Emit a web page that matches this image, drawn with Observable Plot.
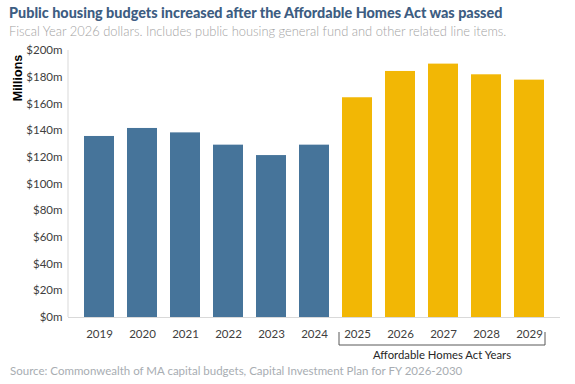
<!DOCTYPE html>
<html>
<head>
<meta charset="utf-8">
<script src="https://cdn.jsdelivr.net/npm/d3@7"></script>
<script src="https://cdn.jsdelivr.net/npm/@observablehq/plot@0.6"></script>
<style>
  html, body { margin: 0; padding: 0; background: #fff; }
  #wrap { position: relative; width: 575px; height: 384px; overflow: hidden; font-family: Lato, "Open Sans", sans-serif; }
  #title { position: absolute; left: 9px; top: 4px; font-size: 14.4px; font-weight: 900; color: #3d5d82; white-space: nowrap; }
  #subtitle { position: absolute; left: 9px; top: 23px; font-size: 12.9px; font-weight: 300; color: #a3a3a3; white-space: nowrap; }
  #source { position: absolute; left: 10px; top: 364px; font-size: 11.5px; font-weight: 400; color: #a8adb2; white-space: nowrap; }
  #chart { position: absolute; left: 0; top: 40px; }
  #chart svg { overflow: visible; }
</style>
</head>
<body>
<div id="wrap">
  <div id="title">Public housing budgets increased after the Affordable Homes Act was passed</div>
  <div id="subtitle">Fiscal Year 2026 dollars. Includes public housing general fund and other related line items.</div>
  <div id="chart"></div>
  <div id="source">Source: Commonwealth of MA capital budgets, Capital Investment Plan for FY 2026-2030</div>
</div>
<script>
const years = ["2019","2020","2021","2022","2023","2024","2025","2026","2027","2028","2029"];
const budgets = [135.6, 141.6, 138.3, 129.1, 121.3, 129.1, 164.6, 184.3, 189.8, 181.8, 177.8];
const periods = ["Before","Before","Before","Before","Before","Before","AHA","AHA","AHA","AHA","AHA"];
const yTicks = [0, 20, 40, 60, 80, 100, 120, 140, 160, 180, 200];
const ahaYears = ["2025", "2029"];
const ahaLabel = "Affordable Homes Act Years";
const yLabel = "Millions";

const data = years.map((y, i) => ({year: y, value: budgets[i], period: periods[i]}));

const plot = Plot.plot({
  width: 575,
  height: 320,
  marginTop: 10,
  marginBottom: 43,
  marginLeft: 68,
  marginRight: 15,
  style: {fontFamily: "Lato, 'Open Sans', sans-serif", fontSize: "11.5px", color: "#404040", background: "transparent"},
  x: {domain: years, padding: 0.3, label: null, tickSize: 0, tickPadding: 12},
  y: {domain: [0, 200], ticks: yTicks, tickFormat: d => `$${d}m`, label: null, tickSize: 0, tickPadding: 6},
  color: {domain: ["Before", "AHA"], range: ["#46749a", "#f2b705"]},
  marks: [
    Plot.barY(data, {x: "year", y: "value", fill: "period"}),
    Plot.ruleY([0], {stroke: "#d9d9d9", strokeWidth: 1})
  ]
});
document.getElementById("chart").appendChild(plot);

// annotations using the plot's own scales
const xs = plot.scale("x");
const ys = plot.scale("y");
const bw = xs.bandwidth;
const svg = d3.select(plot);
const y0 = ys.apply(0), yTop = ys.apply(200);
// y axis line
svg.append("line").attr("x1", 68).attr("x2", 68).attr("y1", yTop).attr("y2", y0)
  .attr("stroke", "#d9d9d9").attr("stroke-width", 1);
// y label
svg.append("text")
  .attr("transform", `translate(18,${yTop + 28}) rotate(-90)`)
  .attr("text-anchor", "middle").attr("dominant-baseline", "central")
  .attr("font-family", "'Liberation Sans', Arial, sans-serif").attr("font-weight", 700)
  .attr("font-size", 12.5).attr("fill", "#000").text(yLabel);
// bracket
const bx1 = xs.apply(ahaYears[0]) - 3;
const bx2 = xs.apply(ahaYears[1]) + bw + 1;
const by1 = y0 + 15, by2 = y0 + 28;
svg.append("path")
  .attr("d", `M${bx1},${by1}V${by2}H${bx2}V${by1}`)
  .attr("fill", "none").attr("stroke", "#595959").attr("stroke-width", 1);
svg.append("text")
  .attr("x", (bx1 + bx2) / 2).attr("y", by2 + 9)
  .attr("text-anchor", "middle").attr("dominant-baseline", "central")
  .attr("font-size", 11.3).attr("fill", "#262626").text(ahaLabel);
</script>
</body>
</html>
